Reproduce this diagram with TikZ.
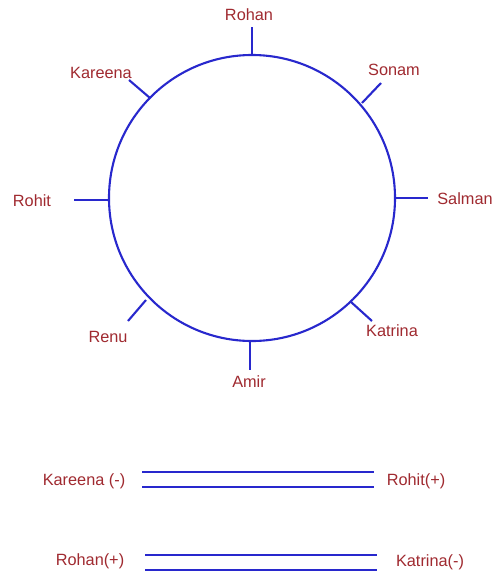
\documentclass[tikz,border=0pt]{standalone}
\usepackage{fontspec}
\setmainfont{Liberation Sans}
\definecolor{lbl}{RGB}{160,42,48}
\definecolor{ln}{RGB}{40,40,205}
\begin{document}
\begin{tikzpicture}[x=1pt,y=-1pt,
  lab/.style={text=lbl,font=\fontsize{16.3}{19}\selectfont,inner sep=0pt},
  tick/.style={draw=ln,line width=2.1pt},
  dbl/.style={draw=ln,line width=2.1pt,double=white,double distance=12.5pt}]
\useasboundingbox[fill=white] (0,0) rectangle (502,576);
\node[draw=ln,line width=2.1pt,circle,minimum size=286pt,inner sep=0pt] (c) at (252,198) {};
% tick ends
\coordinate (t1a) at (252,55);  \coordinate (t1b) at (252,27);
\coordinate (t2a) at (362,103); \coordinate (t2b) at (381,83);
\coordinate (t3a) at (395,198); \coordinate (t3b) at (428,198);
\coordinate (t4a) at (351,302); \coordinate (t4b) at (372,321);
\coordinate (t5a) at (250,341); \coordinate (t5b) at (250,370);
\coordinate (t6a) at (146,300); \coordinate (t6b) at (128,321);
\coordinate (t7a) at (109,200); \coordinate (t7b) at (74,200);
\coordinate (t8a) at (150,98);  \coordinate (t8b) at (129,80);
\foreach \i in {1,...,8} \draw[tick] (t\i a) -- (t\i b);
% labels
\node[lab] (rohan) at (249,15) {Rohan};
\node[lab] (sonam) at (394,70) {Sonam};
\node[lab] (salman) at (465,199) {Salman};
\node[lab] (katrina) at (392,331) {Katrina};
\node[lab] (amir) at (249,382) {Amir};
\node[lab] (renu) at (108,337) {Renu};
\node[lab] (rohit) at (32,201) {Rohit};
\node[lab] (kareena) at (101,73) {Kareena};
% bottom pairs
\node[lab] (k2) at (84,481) {Kareena (-)};
\node[lab] (r2) at (416,481) {Rohit(+)};
\node[lab] (rh2) at (90,561) {Rohan(+)};
\node[lab] (kt2) at (430,562) {Katrina(-)};
\coordinate (p1a) at (142,479.5); \coordinate (p1b) at (374,479.5);
\coordinate (p2a) at (145,562.5); \coordinate (p2b) at (377,562.5);
\draw[dbl] (p1a) -- (p1b);
\draw[dbl] (p2a) -- (p2b);
\end{tikzpicture}
\end{document}
